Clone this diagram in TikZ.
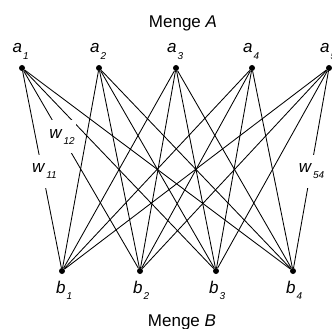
\documentclass[tikz,border=0pt]{standalone}
\usepackage{fontspec}
\setmainfont{Liberation Sans}
\newcommand{\subl}[2]{\textit{#1}\kern1pt\raisebox{-6pt}{\fontsize{10}{10}\selectfont\textit{#2}}}
\begin{document}
\begin{tikzpicture}[x=1pt,y=-1pt,
  dot/.style={circle,fill=black,inner sep=0pt,minimum size=6pt},
  edge/.style={line width=0.85pt},
  lbl/.style={inner sep=0pt,font=\fontsize{17}{17}\selectfont},
  wbox/.style={fill=white,inner xsep=1pt,inner ysep=9pt,font=\fontsize{17}{17}\selectfont}]
\useasboundingbox (0,0) rectangle (332,329);
% nodes of set A
\node[dot] (a1) at (22,68) {};
\node[dot] (a2) at (99,68) {};
\node[dot] (a3) at (176,68) {};
\node[dot] (a4) at (252,68) {};
\node[dot] (a5) at (329,68) {};
% nodes of set B
\node[dot] (b1) at (62,271) {};
\node[dot] (b2) at (140,271) {};
\node[dot] (b3) at (216,271) {};
\node[dot] (b4) at (293,271) {};
% labels
\node[lbl,anchor=base west] (la1) at (12.5,53) {\subl{a}{1}};
\node[lbl,anchor=base west] (la2) at (90,53) {\subl{a}{2}};
\node[lbl,anchor=base west] (la3) at (167,53) {\subl{a}{3}};
\node[lbl,anchor=base west] (la4) at (243,53) {\subl{a}{4}};
\node[lbl,anchor=base west] (la5) at (320,53) {\subl{a}{5}};
\node[lbl,anchor=base west] (lb1) at (56,293) {\subl{b}{1}};
\node[lbl,anchor=base west] (lb2) at (133,293) {\subl{b}{2}};
\node[lbl,anchor=base west] (lb3) at (209,293) {\subl{b}{3}};
\node[lbl,anchor=base west] (lb4) at (286,293) {\subl{b}{4}};
\node[lbl,anchor=base] (mA) at (183,28) {Menge \textit{A}};
\node[lbl,anchor=base] (mB) at (182,326) {Menge \textit{B}};
% edges
\foreach \i in {1,...,5}{
  \foreach \j in {1,...,4}{
    \draw[edge] (a\i) -- (b\j);
  }
}
% weight labels
\path (a1) -- node[wbox,pos=0.51,xshift=2pt] (w11) {\subl{w}{11}} (b1);
\path (a1) -- node[wbox,pos=0.335] (w12) {\subl{w}{12}} (b2);
\path (a5) -- node[wbox,pos=0.51,xshift=1pt] (w54) {\subl{w}{54}} (b4);
\end{tikzpicture}
\end{document}
